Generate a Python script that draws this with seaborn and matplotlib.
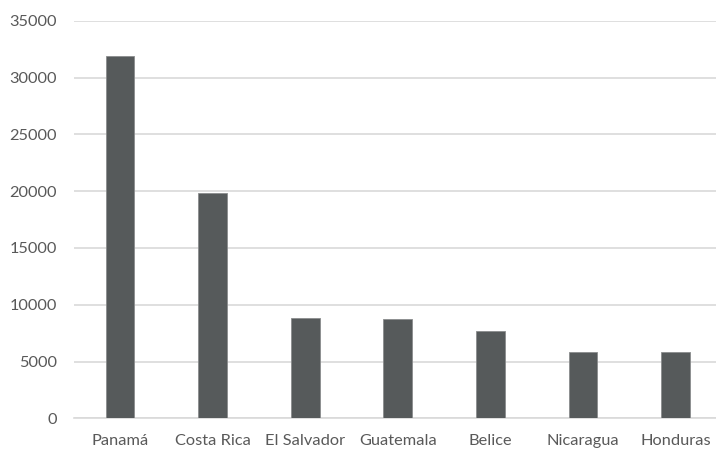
import pandas as pd
from matplotlib import pyplot as plt
import seaborn as sns

paises = ['Panamá', 'Costa Rica', 'El Salvador', 'Guatemala', 'Belice', 'Nicaragua', 'Honduras']
valores = [31850, 19800, 8800, 8700, 7650, 5800, 5800]

df = pd.DataFrame({'pais': paises, 'valor': valores})

sns.set_style('white')
plt.rcParams['font.family'] = ['Lato', 'DejaVu Sans']

fig = plt.figure(figsize=(7.16, 4.51), dpi=100)
# plot area runs a little past the right edge of the picture
ax = fig.add_axes([73.7 / 716, 32.7 / 451, 648.3 / 716, 397.6 / 451])

sns.barplot(data=df, x='pais', y='valor', color='#565a5b', width=0.31,
            edgecolor='#8a8c8d', linewidth=0.6, saturation=1, ax=ax, zorder=3)

ax.set_xlim(-0.5, 6.5)
ax.set_ylim(0, 35000)
ax.set_yticks(range(0, 35001, 5000))
ax.yaxis.grid(True, color='#d9d9d9', linewidth=1.2, zorder=0)
ax.set_axisbelow(True)
for side in ['top', 'right', 'left']:
    ax.spines[side].set_visible(False)
ax.spines['bottom'].set_color('#d9d9d9')
ax.spines['bottom'].set_linewidth(1.2)
ax.tick_params(axis='both', length=0, labelsize=11.8, labelcolor='#595959')
ax.tick_params(axis='y', pad=12)
ax.tick_params(axis='x', pad=11)
ax.set_xlabel('')
ax.set_ylabel('')

fig.savefig('out.png', dpi=100)
